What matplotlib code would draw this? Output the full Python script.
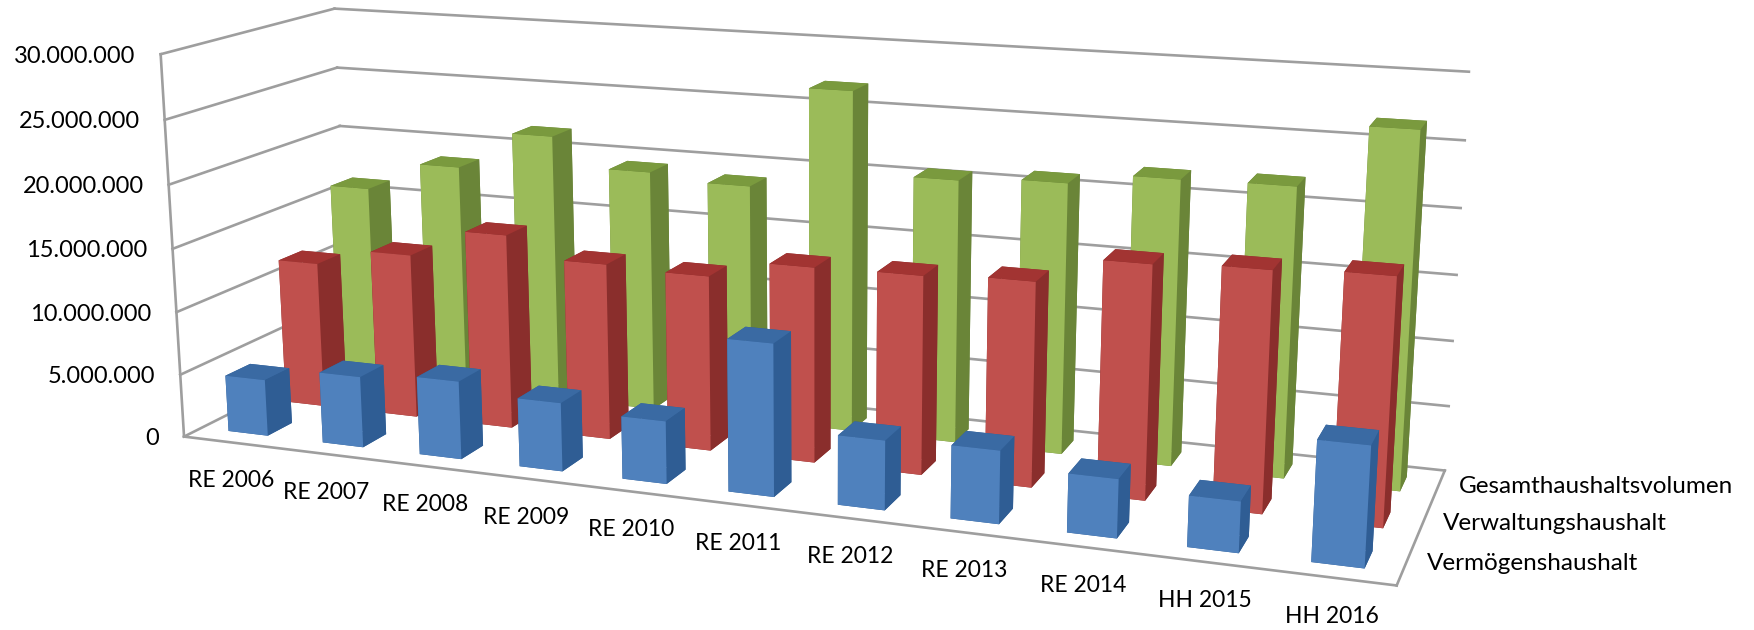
import numpy as np
import matplotlib
matplotlib.use("Agg")
import matplotlib.pyplot as plt
from mpl_toolkits.mplot3d import proj3d

plt.rcParams['font.family'] = ['Lato', 'DejaVu Sans']

years = ["RE 2006", "RE 2007", "RE 2008", "RE 2009", "RE 2010", "RE 2011",
         "RE 2012", "RE 2013", "RE 2014", "HH 2015", "HH 2016"]
series_names = ["Vermögenshaushalt", "Verwaltungshaushalt", "Gesamthaushaltsvolumen"]
verm = [4.5e6, 5.6e6, 6.1e6, 5.3e6, 4.8e6, 11.5e6, 5.2e6, 5.4e6, 4.3e6, 3.7e6, 8.6e6]
verw = [11.8e6, 13.2e6, 15.5e6, 13.9e6, 13.7e6, 15.1e6, 15.2e6, 15.5e6, 17.5e6, 17.8e6, 18.1e6]
gesamt = [16.2e6, 18.6e6, 21.7e6, 19.4e6, 18.9e6, 26.9e6, 20.6e6, 21.0e6, 21.9e6, 22.0e6, 26.7e6]
z_ticks = [0, 5000000, 10000000, 15000000, 20000000, 25000000, 30000000]

# front, side, top colours of each series
blue = ("#4F81BD", "#2F5D94", "#3A6AA3")
red = ("#C0504D", "#8A2E2C", "#A23432")
green = ("#9BBB59", "#6A8538", "#7A9A3E")
GREY = "#9E9E9E"

W, H = 1754, 630
fig = plt.figure(figsize=(W / 100, H / 100), dpi=100, facecolor="white")
# big square axes, camera values were fitted to the corners of the box
S = 1310.6
ax = fig.add_axes([127.3 / W, -304.6 / H, S / W, S / H], projection='3d', computed_zorder=False)
ax.set_axis_off()
ax.set_proj_type('persp', focal_length=0.3656)
ax.view_init(elev=13.78, azim=-69.45, roll=0.1)
ax.set_xlim(0, 11)
ax.set_ylim(0, 3)
ax.set_zlim(0, 30000000)
ax.set_box_aspect((1055, 288, 341))

# walls and floor
for t in z_ticks:
    ax.plot([0, 0], [0, 3], [t, t], color=GREY, lw=1.9, zorder=1, clip_on=False)
    ax.plot([0, 11], [3, 3], [t, t], color=GREY, lw=1.9, zorder=1, clip_on=False)
ax.plot([0, 0], [0, 0], [0, 30000000], color=GREY, lw=1.9, zorder=1, clip_on=False)
ax.plot([0, 11], [0, 0], [0, 0], color=GREY, lw=1.9, zorder=1, clip_on=False)
ax.plot([11, 11], [0, 3], [0, 0], color=GREY, lw=1.9, zorder=1, clip_on=False)

bw = 0.42
bd = 0.42
all_series = [(gesamt, green, 2, 2), (verw, red, 1, 3), (verm, blue, 0, 4)]
for vals, cols, row, zo in all_series:
    front, side, top = cols
    for i, v in enumerate(vals):
        # -z, +z, -y, +y, -x, +x
        ax.bar3d(i + 0.5 - bw / 2, row + 0.5 - bd / 2, 0, bw, bd, v,
                 color=[side, top, front, side, side, side], shade=False,
                 linewidth=0, zorder=zo, clip_on=False)


def label(x, y, z, txt, dx, dy, ha, fs):
    # text is placed next to the projected point of the box
    px, py, _ = proj3d.proj_transform(x, y, z, ax.get_proj())
    ax.annotate(txt, xy=(px, py), xytext=(dx, dy), textcoords='offset pixels', ha=ha, va='center',
                fontsize=fs, color="black", zorder=10, annotation_clip=False)


for t in z_ticks:
    label(0, 0, t, f"{t:,}".replace(",", "."), -25, -2, 'right', 17)
for i, lab in enumerate(years):
    label(i + 0.5, 0, 0, lab, 0, -38.5, 'center', 16.5)
for row, lab in enumerate(series_names):
    label(11, row + 0.5, 0, lab, 21, 1, 'left', 17.5)

fig.savefig("out.png", dpi=100, facecolor="white")
